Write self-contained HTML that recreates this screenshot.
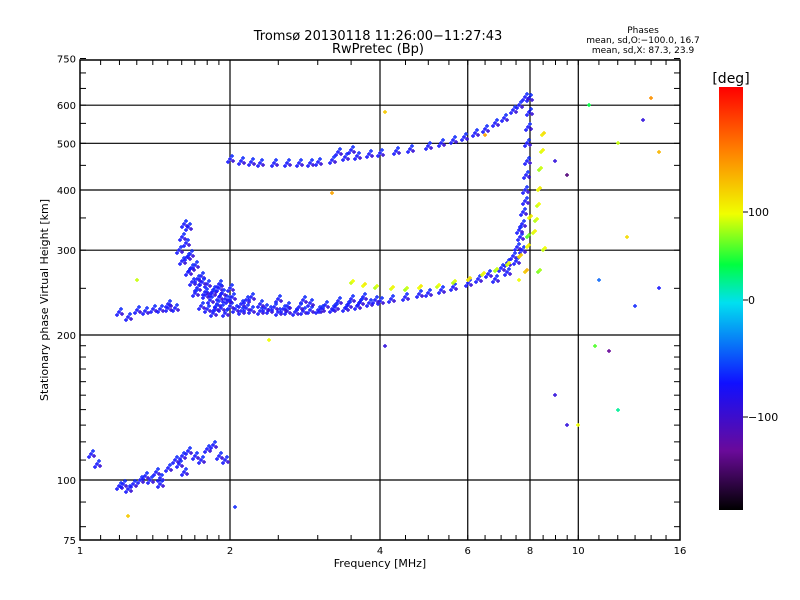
<!DOCTYPE html>
<html><head><meta charset="utf-8"><style>
body{margin:0;background:#fff}
svg{display:block;font-family:"DejaVu Sans","Liberation Sans",sans-serif}
</style></head><body>
<svg id="c" width="800" height="600" xmlns="http://www.w3.org/2000/svg">
<defs><linearGradient id="cb" x1="0" y1="1" x2="0" y2="0">
<stop offset="0" stop-color="#000"/><stop offset="0.14" stop-color="#6a0a9a"/><stop offset="0.3" stop-color="#1010ff"/><stop offset="0.49" stop-color="#00e0f0"/><stop offset="0.58" stop-color="#00ff40"/><stop offset="0.7" stop-color="#f0ff00"/><stop offset="0.85" stop-color="#ff8000"/><stop offset="1" stop-color="#ff0000"/>
</linearGradient></defs>
<text x="378" y="40" font-size="13" text-anchor="middle">Tromsø 20130118 11:26:00−11:27:43</text>
<text x="378" y="53" font-size="13" text-anchor="middle">RwPretec (Bp)</text>
<g font-size="9" text-anchor="middle">
<text x="643" y="33">Phases</text>
<text x="643" y="43">mean, sd,O:−100.0, 16.7</text>
<text x="643" y="53">mean, sd,X:  87.3, 23.9</text></g>
<g id="grid"></g>
<g id="pts"></g>
<rect x="80" y="60" width="600" height="480" fill="none" stroke="#000" stroke-width="1.5"/>
<text x="380" y="567" font-size="11" text-anchor="middle">Frequency [MHz]</text>
<text transform="translate(48,300) rotate(-90)" font-size="11" text-anchor="middle">Stationary phase Virtual Height [km]</text>
<rect x="719" y="87" width="24" height="423" fill="url(#cb)"/>
<text x="731" y="83" font-size="14" text-anchor="middle">[deg]</text>
<g font-size="11">
<line x1="743" y1="212" x2="748" y2="212" stroke="#000"/><text x="748" y="216">100</text>
<line x1="743" y1="300" x2="748" y2="300" stroke="#000"/><text x="748" y="304">0</text>
<line x1="743" y1="417" x2="748" y2="417" stroke="#000"/><text x="748" y="421">−100</text></g>
</svg>
<script>
const xTicks=[1,2,4,6,8,10,16];
const yTicks=[75,100,200,300,400,500,600,750];
// O-mode (blue) trace points
const oFreq=[1.62,1.65,1.6,1.63,1.58,1.66,1.6,1.7,1.65,1.75,1.68,1.8,1.72,1.85,1.78,1.9,1.82,1.95,1.88,2.0,1.92,1.8,2.05,1.85,1.95,2.1,1.75,1.7,1.9,2.0,
1.64,1.72,1.78,1.84,1.9,1.98,2.02,2.15,1.67,1.76,1.87,1.93,
2.1,2.2,2.3,2.4,2.5,2.6,2.7,2.8,2.9,3.0,3.2,3.4,3.6,3.8,4.0,2.3,2.6,2.9,3.1,3.3,2.2,2.5,2.8,3.5,3.7,
2.35,2.55,2.75,3.05,3.25,3.45,3.65,2.15,2.45,3.9,
4.2,4.5,4.8,5.0,5.3,5.6,6.0,6.3,6.6,7.0,7.2,7.4,7.55,7.65,7.7,7.75,7.8,7.82,7.85,7.88,7.9,7.92,7.95,7.97,6.8,7.2,7.5,7.7,7.6,
1.3,1.35,1.4,1.45,1.5,1.55,1.5,1.2,1.25,
2.0,2.1,2.2,2.3,2.45,2.6,2.75,2.9,3.0,3.2,3.4,3.6,3.8,4.0,4.3,4.6,5.0,5.3,5.6,5.9,6.2,6.5,6.8,7.1,7.4,7.6,7.8,3.3,3.5,
1.05,1.08,1.2,1.22,1.25,1.28,1.32,1.35,1.38,1.42,1.45,1.5,1.55,1.58,1.6,1.65,1.7,1.75,1.8,1.85,1.9,1.95,1.45,1.62];
const oHeight=[340,335,320,310,300,295,285,280,270,265,258,255,250,248,242,240,236,238,232,230,228,226,226,222,222,232,230,245,255,250,
290,262,246,244,250,236,240,236,275,258,228,245,
224,225,224,225,223,224,223,224,225,225,226,228,230,233,235,232,230,233,231,235,240,238,236,238,240,
228,227,229,227,229,231,234,228,229,236,
237,240,243,245,248,252,257,262,268,276,282,292,305,320,340,360,380,400,430,460,500,540,580,620,262,270,285,300,330,
225,224,226,227,228,228,232,223,218,
465,460,458,456,455,455,456,455,458,462,468,470,475,478,482,487,494,500,507,515,525,535,550,565,585,600,625,480,485,
113,108,97,98,96,98,100,102,100,104,101,106,110,108,112,115,112,110,116,118,112,110,98,104];
const oPhase=-100;
// X-mode (yellow) trace
const xFreq=[3.5,3.7,3.9,4.2,4.5,4.8,5.2,5.6,6.0,6.4,6.8,7.2,7.6,7.9,8.1,8.2,8.25,8.3,8.35,8.4,8.45,8.3,8.5,7.9,7.95,7.8];
const xHeight=[256,253,250,249,248,250,252,256,260,266,272,280,290,305,325,345,370,400,440,480,520,270,300,320,350,270];
const xPhase=[90,100,85,95,80,100,90,85,110,95,80,90,120,100,95,85,90,100,80,95,110,70,90,60,100,130];
// scattered echoes
const sFreq=[10.5,12,13.5,14,14.5,11,12.5,13,14.5,9,9.5,10,10.8,11.5,12,7.6,4.1,4.1,6.5,9,9.5,1.3,1.25,2.05,2.4,3.2];
const sHeight=[600,500,560,620,480,260,320,230,250,150,130,130,190,185,140,260,580,190,520,460,430,260,84,88,195,395];
const sPhase=[40,90,-110,160,140,-60,120,-90,-100,-110,-110,100,60,-130,20,100,130,-110,150,-110,-140,90,130,-90,100,150];

const X=f=>80+150*Math.log2(f);
const Y=h=>480-145*Math.log2(h/100);
const NS='http://www.w3.org/2000/svg';
const g=document.getElementById('grid'),P=document.getElementById('pts');
function el(t,a,p){const e=document.createElementNS(NS,t);for(const k in a)e.setAttribute(k,a[k]);p.appendChild(e);return e;}
xTicks.forEach(f=>{const x=X(f);
 if(f>1&&f<16){const l=el('line',{x1:x,y1:60,x2:x,y2:540,stroke:'#000','stroke-width':1.2},g);
 
 }
 const t=el('text',{x:x,y:554,'font-size':10,'text-anchor':'middle'},g);t.textContent=f;
 
 });
for(let f=1;f<=16;f+=(f<2?0.1:f<10?0.5:1)){const x=X(f);el('line',{x1:x,y1:540,x2:x,y2:535,stroke:'#000'},g);el('line',{x1:x,y1:60,x2:x,y2:65,stroke:'#000'},g);}
yTicks.forEach(h=>{const y=Y(h);
 if(h>75&&h<750){const l=el('line',{x1:80,y1:y,x2:680,y2:y,stroke:'#000','stroke-width':1.2},g);
 
 }
 const t=el('text',{x:76,y:y+4,'font-size':10,'text-anchor':'end'},g);t.textContent=h;
 
 });
for(let h=80;h<=750;h+=(h<200?10:50)){const y=Y(h);el('line',{x1:80,y1:y,x2:86,y2:y,stroke:'#000'},g);el('line',{x1:674,y1:y,x2:680,y2:y,stroke:'#000'},g);}
const stops=[[-180,[0,0,0]],[-130,[106,10,154]],[-100,[30,30,255]],[0,[0,224,240]],[40,[0,255,64]],[100,[240,255,0]],[170,[255,128,0]],[240,[255,0,0]]];
function col(d){for(let i=1;i<stops.length;i++){if(d<=stops[i][0]){const a=stops[i-1],b=stops[i],t=(d-a[0])/(b[0]-a[0]);return 'rgb('+a[1].map((v,k)=>Math.round(v+(b[1][k]-v)*t)).join(',')+')';}}return 'red';}
function pt(x,y,p){x=Math.round(x);y=Math.round(y);const c=col(p);
 const e=el('path',{d:`M${x-2} ${y}h4M${x} ${y-2}v4`,stroke:c,'stroke-width':1.4},P);
 
 }
const offs=[[0,0],[3,2],[-2,3],[2,-3]];
oFreq.forEach((f,i)=>offs.forEach((o,k)=>pt(X(f)+o[0],Y(oHeight[i])+o[1],oPhase+(k===1?-12:k===3?12:0))));
xFreq.forEach((f,i)=>{pt(X(f),Y(xHeight[i]),xPhase[i]);pt(X(f)+2,Y(xHeight[i])-2,xPhase[i]+10);});
sFreq.forEach((f,i)=>pt(X(f),Y(sHeight[i]),sPhase[i]));
</script>
</body></html>
